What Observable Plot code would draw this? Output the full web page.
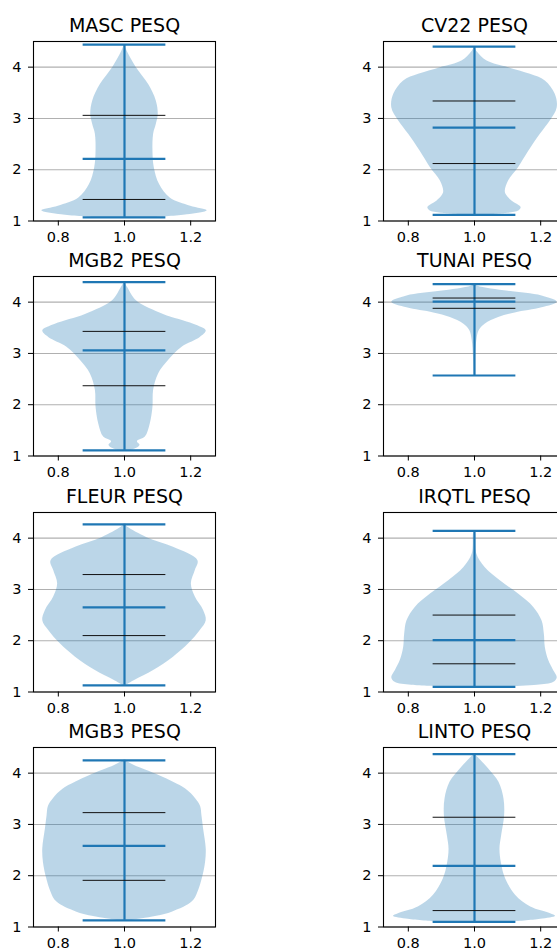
<!DOCTYPE html>
<html><head><meta charset="utf-8">
<script src="https://cdn.jsdelivr.net/npm/d3@7"></script>
<script src="https://cdn.jsdelivr.net/npm/@observablehq/plot@0.6"></script>
<style>
html,body{margin:0;padding:0;background:#fff;overflow:hidden;width:557px;height:952px;}
#root{position:relative;width:557px;height:952px;overflow:hidden;background:#fff;}
.panel{position:absolute;}
.panel svg{max-width:none !important;}
</style></head><body><div id="root"></div>
<script>
// ---- data ----
const TITLES = ["MASC PESQ","CV22 PESQ","MGB2 PESQ","TUNAI PESQ","FLEUR PESQ","IRQTL PESQ","MGB3 PESQ","LINTO PESQ"];
const MINS    = [1.07, 1.12, 1.11, 2.57, 1.13, 1.10, 1.13, 1.10];
const Q1      = [1.42, 2.12, 2.37, 3.88, 2.10, 1.55, 1.91, 1.32];
const MEDIANS = [2.21, 2.82, 3.06, 4.01, 2.65, 2.01, 2.58, 2.19];
const Q3      = [3.06, 3.34, 3.43, 4.08, 3.29, 2.50, 3.23, 3.14];
const MAXS    = [4.44, 4.40, 4.39, 4.35, 4.27, 4.14, 4.25, 4.37];
const Y_TICKS = [1, 2, 3, 4];
const X_TICKS = [0.8, 1.0, 1.2];

// violin profiles: [value, half-width]
const MASC  = [[1.07,0.10],[1.12,0.19],[1.2,0.25],[1.29,0.20],[1.45,0.138],[1.71,0.106],[2.04,0.09],[2.36,0.086],[2.69,0.088],[2.88,0.096],[3.08,0.102],[3.34,0.096],[3.66,0.073],[4.0,0.035],[4.31,0.008],[4.44,0.0]];
const CV22  = [[1.12,0.04],[1.15,0.10],[1.2,0.135],[1.26,0.141],[1.32,0.13],[1.39,0.113],[1.5,0.097],[1.58,0.093],[1.78,0.103],[2.04,0.133],[2.36,0.164],[2.69,0.199],[2.95,0.229],[3.21,0.25],[3.47,0.244],[3.73,0.214],[3.86,0.169],[3.99,0.103],[4.12,0.038],[4.3,0.008],[4.40,0.0]];
const MGB2  = [[1.11,0.02],[1.15,0.037],[1.21,0.047],[1.28,0.039],[1.37,0.063],[1.63,0.078],[1.95,0.086],[2.28,0.088],[2.60,0.103],[2.86,0.133],[3.12,0.174],[3.31,0.229],[3.44,0.247],[3.57,0.209],[3.76,0.118],[4.02,0.037],[4.28,0.01],[4.39,0.0]];
const TUNAI = [[2.57,0.001],[2.93,0.003],[3.25,0.007],[3.44,0.014],[3.57,0.032],[3.70,0.073],[3.79,0.123],[3.89,0.204],[4.00,0.25],[4.12,0.204],[4.21,0.103],[4.31,0.01],[4.35,0.0]];
const FLEUR = [[1.13,0.005],[1.23,0.032],[1.42,0.088],[1.68,0.148],[1.94,0.194],[2.20,0.229],[2.39,0.247],[2.59,0.239],[2.85,0.214],[3.11,0.202],[3.37,0.214],[3.56,0.222],[3.82,0.148],[4.01,0.068],[4.21,0.01],[4.27,0.0]];
const IRQTL = [[1.10,0.10],[1.13,0.19],[1.19,0.24],[1.28,0.25],[1.42,0.239],[1.62,0.224],[1.87,0.214],[2.13,0.211],[2.39,0.204],[2.65,0.179],[2.91,0.133],[3.17,0.078],[3.43,0.032],[3.69,0.007],[4.08,0.003],[4.14,0.0]];
const MGB3  = [[1.13,0.02],[1.16,0.054],[1.29,0.144],[1.49,0.205],[1.68,0.222],[1.94,0.235],[2.26,0.245],[2.52,0.247],[2.91,0.239],[3.17,0.234],[3.35,0.23],[3.5,0.215],[3.69,0.185],[3.95,0.106],[4.15,0.03],[4.25,0.0]];
const LINTO = [[1.10,0.12],[1.15,0.20],[1.21,0.245],[1.26,0.23],[1.39,0.17],[1.62,0.124],[1.94,0.094],[2.26,0.081],[2.52,0.077],[2.78,0.082],[3.17,0.091],[3.50,0.089],[3.82,0.074],[4.08,0.043],[4.31,0.01],[4.37,0.0]];
const SHAPES = [MASC, CV22, MGB2, TUNAI, FLEUR, IRQTL, MGB3, LINTO];

// ---- layout / style ----
const POS = 1, CAP = 0.125;
const BLUE = "#1f77b4";
const ML = 33, MT = 41, MB = 36, MR = 12, FW = 182, FH = 179.5;
const COL_LEFT = [33, 383];
const ROW_TOP = [41, 276, 511.5, 747];

const root = document.getElementById("root");
SHAPES.forEach((shape, i) => {
  const col = i % 2, row = Math.floor(i / 2);
  const stats = [{pos: POS, lo: MINS[i], hi: MAXS[i]}];
  const W = ML + FW + MR, H = MT + FH + MB;
  const chart = Plot.plot({
    width: W, height: H,
    marginLeft: ML, marginTop: MT, marginRight: MR, marginBottom: MB,
    x: {domain: [0.725, 1.275], label: null},
    y: {domain: [1, 4.5], label: null},
    style: {fontFamily: "DejaVu Sans", fontSize: "14.5px", color: "#000", background: "transparent", overflow: "visible", maxWidth: "none"},
    marks: [
      Plot.gridY(Y_TICKS, {stroke: "#b0b0b0", strokeOpacity: 1, strokeWidth: 1.1}),
      Plot.areaX(shape, {y: d => d[0], x1: d => POS - d[1], x2: d => POS + d[1], fill: BLUE, fillOpacity: 0.3, curve: "catmull-rom"}),
      Plot.ruleX(stats, {x: "pos", y1: "lo", y2: "hi", stroke: BLUE, strokeWidth: 2.2}),
      Plot.ruleY([Q1[i], Q3[i]], {y: d => d, x1: POS - CAP, x2: POS + CAP, stroke: "#111", strokeWidth: 1}),
      Plot.ruleY([MINS[i], MEDIANS[i], MAXS[i]], {y: d => d, x1: POS - CAP, x2: POS + CAP, stroke: BLUE, strokeWidth: 2.2}),
      Plot.frame({stroke: "#000", strokeWidth: 1.1}),
      Plot.axisY(Y_TICKS, {tickSize: 5, tickPadding: 7, tickFormat: d => String(d), label: null}),
      Plot.axisX(X_TICKS, {tickSize: 5, tickPadding: 6, tickFormat: d => d.toFixed(1), label: null}),
      Plot.text([TITLES[i]], {frameAnchor: "top", lineAnchor: "bottom", dy: -9.5, fontSize: 19, fill: "#000"})
    ]
  });
  const div = document.createElement("div");
  div.className = "panel";
  div.style.left = (COL_LEFT[col] - ML) + "px";
  div.style.top = (ROW_TOP[row] - MT) + "px";
  div.style.width = W + "px";
  div.style.height = H + "px";
  div.appendChild(chart);
  root.appendChild(div);
});
</script></body></html>
